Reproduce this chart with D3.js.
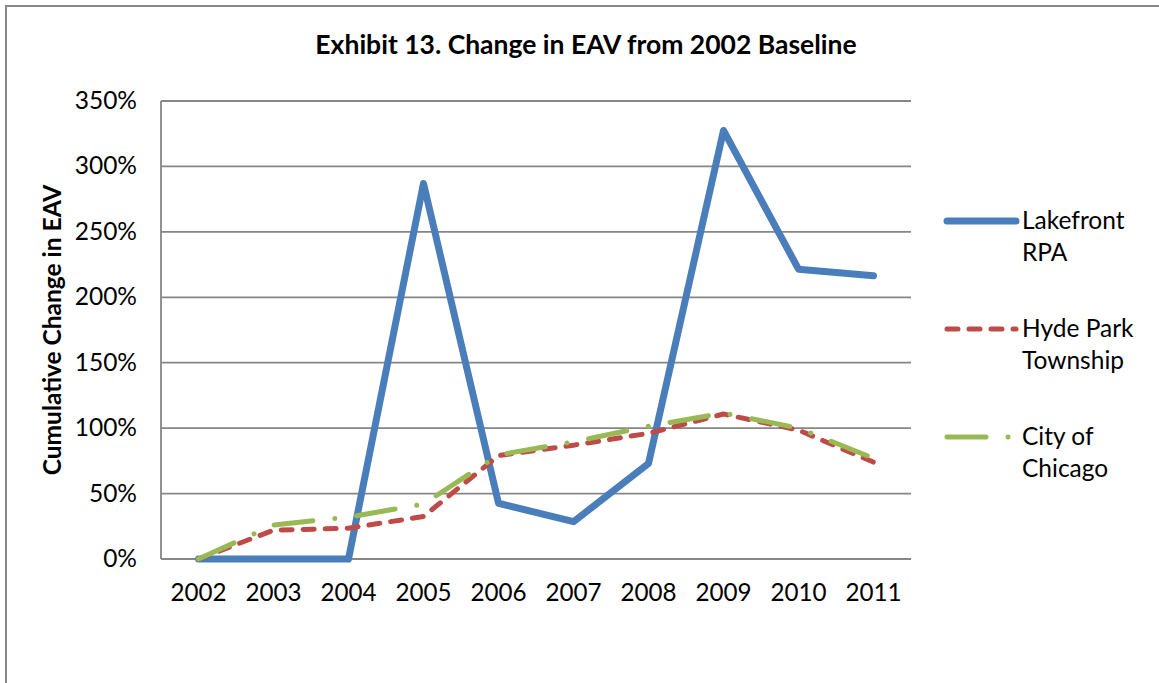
<!DOCTYPE html>
<html><head><meta charset="utf-8">
<script src="https://cdn.jsdelivr.net/npm/d3@7"></script>
<style>body{margin:0;background:#fff;} svg{display:block;}</style>
</head><body>
<svg id="c" width="1159" height="683"></svg>
<script>
const years = ["2002","2003","2004","2005","2006","2007","2008","2009","2010","2011"];
const lakefront = [0, 0, 0, 287, 42.6, 28.5, 73, 327.5, 221.5, 216.5];
const hydePark = [0, 22, 23.5, 32.5, 79, 87, 96, 110.8, 98.5, 74];
const chicago = [0, 26, 32, 42, 79.5, 89.5, 101.5, 111.5, 100, 77];
const yTicks = [0, 50, 100, 150, 200, 250, 300, 350];
const seriesNames = [["Lakefront","RPA"],["Hyde Park","Township"],["City of","Chicago"]];

const font = "Lato, 'Open Sans', sans-serif";
const svg = d3.select("#c");
const m = {l:161, r:911, t:101, b:559};
const x = d3.scaleBand().domain(years).range([m.l, m.r]);
const y = d3.scaleLinear().domain([0,350]).range([m.b, m.t]);

// outer border
svg.append("path").attr("d","M6,683 L6,6 L1159,6").attr("fill","none").attr("stroke","#888").attr("stroke-width",2);

// title
svg.append("text").attr("x",586).attr("y",54).attr("text-anchor","middle")
  .attr("font-family",font).attr("font-weight","bold").attr("font-size",26.5).attr("fill","#000")
  .text("Exhibit 13. Change in EAV from 2002 Baseline");

// gridlines
svg.append("g").selectAll("line").data(yTicks).join("line")
  .attr("x1",m.l).attr("x2",m.r).attr("y1",d=>y(d)).attr("y2",d=>y(d))
  .attr("stroke","#868686").attr("stroke-width",1.8);
// y axis line
svg.append("line").attr("x1",m.l).attr("x2",m.l).attr("y1",m.t).attr("y2",m.b).attr("stroke","#868686").attr("stroke-width",1.8);

// y tick labels
svg.append("g").selectAll("text").data(yTicks).join("text")
  .attr("x",137).attr("y",d=>y(d)+8).attr("text-anchor","end")
  .attr("font-family",font).attr("font-size",24.5).attr("fill","#000")
  .text(d=>d+"%");

// x tick labels
svg.append("g").selectAll("text").data(years).join("text")
  .attr("x",d=>x(d)+x.bandwidth()/2).attr("y",601).attr("text-anchor","middle")
  .attr("font-family",font).attr("font-size",24.2).attr("fill","#000")
  .text(d=>d);

// y axis title
svg.append("text").attr("transform","translate(61,330) rotate(-90)").attr("text-anchor","middle")
  .attr("font-family",font).attr("font-weight","bold").attr("font-size",24.5).attr("fill","#000")
  .text("Cumulative Change in EAV");

const line = d3.line().x((d,i)=>x(years[i])+x.bandwidth()/2).y(d=>y(d));
const styles = [
  {data:lakefront, color:"#4A7EBB", w:7, dash:null},
  {data:hydePark, color:"#BE4B48", w:5, dash:"11,11"},
  {data:chicago, color:"#98B954", w:5, dash:"39,22,0.01,22"}
];
styles.forEach(s=>{
  svg.append("path").attr("d",line(s.data)).attr("fill","none")
    .attr("stroke",s.color).attr("stroke-width",s.w).attr("stroke-linecap","round").attr("stroke-linejoin","round")
    .attr("stroke-dasharray",s.dash);
});

// legend
const legY = [221, 329, 437];
styles.forEach((s,i)=>{
  svg.append("line").attr("x1",947).attr("x2",1016).attr("y1",legY[i]).attr("y2",legY[i])
    .attr("stroke",s.color).attr("stroke-width",s.w).attr("stroke-linecap","round")
    .attr("stroke-dasharray",s.dash);
  const t = svg.append("text").attr("font-family",font).attr("font-size",24.5).attr("fill","#000");
  seriesNames[i].forEach((ln,j)=>{
    t.append("tspan").attr("x",1022).attr("y",legY[i]+8+j*32).text(ln);
  });
});
</script>
</body></html>
